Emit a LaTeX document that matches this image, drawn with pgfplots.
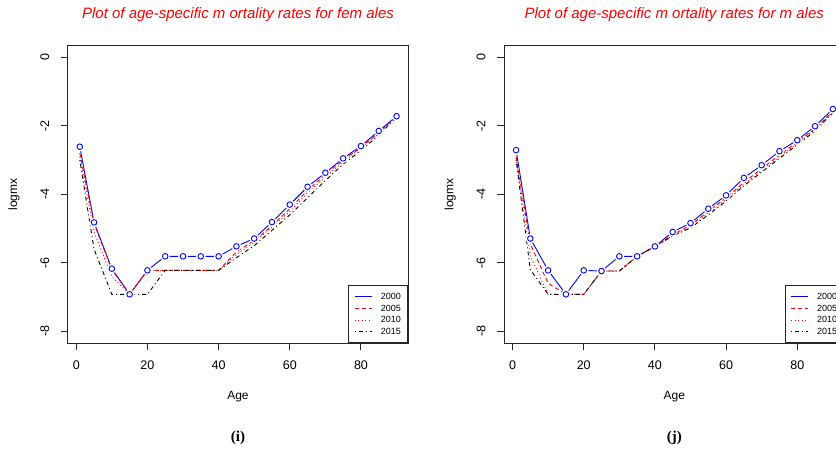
\documentclass[border=0pt]{standalone}
\usepackage{fontspec}
\setmainfont{Liberation Sans}
\newfontfamily\capserif{Liberation Serif}
\usepackage{pgfplots}
\usepackage{pgfplotstable}
\pgfplotsset{compat=1.18}

\definecolor{rblue}{RGB}{0,0,255}
\definecolor{rred}{RGB}{255,0,0}

% age-specific log mortality, females
\pgfplotstableread{
age  y2000  y2005  y2010  y2015
1    -2.61  -2.80  -2.90  -3.00
5    -4.82  -4.85  -5.10  -5.60
10   -6.17  -6.20  -6.40  -6.92
15   -6.92  -6.92  -6.92  -6.92
20   -6.22  -6.22  -6.22  -6.92
25   -5.81  -6.22  -6.22  -6.22
30   -5.81  -6.22  -6.22  -6.22
35   -5.81  -6.22  -6.22  -6.22
40   -5.81  -6.22  -6.22  -6.22
45   -5.52  -5.68  -5.75  -5.85
50   -5.29  -5.35  -5.40  -5.50
55   -4.81  -4.92  -4.95  -5.05
60   -4.30  -4.42  -4.50  -4.60
65   -3.78  -3.88  -3.95  -4.10
70   -3.37  -3.42  -3.50  -3.60
75   -2.95  -3.00  -3.05  -3.12
80   -2.59  -2.63  -2.65  -2.72
85   -2.15  -2.20  -2.22  -2.27
90   -1.72  -1.72  -1.72  -1.75
}\females

% males
\pgfplotstableread{
age  y2000  y2005  y2010  y2015
1    -2.71  -2.90  -2.95  -3.00
5    -5.29  -5.45  -5.80  -6.20
10   -6.22  -6.60  -6.92  -6.92
15   -6.92  -6.92  -6.92  -6.92
20   -6.22  -6.92  -6.92  -6.92
25   -6.24  -6.24  -6.24  -6.24
30   -5.81  -6.24  -6.24  -6.24
35   -5.81  -5.81  -5.81  -5.81
40   -5.52  -5.52  -5.52  -5.52
45   -5.10  -5.18  -5.20  -5.22
50   -4.84  -4.90  -4.95  -4.98
55   -4.42  -4.50  -4.55  -4.60
60   -4.03  -4.10  -4.15  -4.20
65   -3.52  -3.65  -3.70  -3.75
70   -3.15  -3.25  -3.30  -3.35
75   -2.74  -2.85  -2.90  -2.95
80   -2.42  -2.48  -2.52  -2.55
85   -2.01  -2.08  -2.10  -2.15
90   -1.51  -1.58  -1.60  -1.62
}\males

\pgfplotsset{
  mort/.style={
    scale only axis, width=340.6pt, height=297.6pt,
    xmin=-2.4, xmax=93.3, ymin=-8.35, ymax=0.34,
    xtick={0,20,40,60,80}, xticklabels={0,20,40,60,80},
    ytick={-8,-6,-4,-2,0}, yticklabels={-8,-6,-4,-2,0},
    tick align=outside, major tick length=7pt,
    xtick pos=bottom, ytick pos=left,
    axis line style={line width=1pt, black!85},
    every tick/.style={line width=1pt, black!85},
    tick label style={font=\fontsize{12.5}{14}\selectfont},
    xticklabel style={anchor=center, yshift=-15pt},
    yticklabel style={rotate=90, anchor=south},
    yticklabel shift=8pt,
    legend style={at={(1,0)}, anchor=south east, draw=black!85,
      line width=1pt, font=\fontsize{9}{10}\selectfont,
      inner xsep=5.5pt, inner ysep=5pt, row sep=0pt,
      nodes={inner xsep=1.5pt, inner ysep=2.35pt, text height=6pt, text depth=1pt},
      /tikz/every odd column/.append style={column sep=7pt}},
    legend cell align=left,
    legend image code/.code={\draw[#1, line width=0.9pt] (0pt,0pt) -- (17pt,0pt);},
    clip=false,
  },
  s2000/.style={rblue, line width=0.9pt},
  gap/.style={only marks, mark=*, mark size=4.6pt, mark options={draw=white, fill=white}, forget plot},
  circ/.style={only marks, rblue, mark=o, mark size=2.8pt, mark options={solid, line width=0.9pt}, forget plot},
  s2005/.style={rred, line width=0.9pt, dash pattern=on 4pt off 3pt},
  s2010/.style={rred, line width=0.9pt, dash pattern=on 1pt off 2.5pt},
  s2015/.style={black, line width=0.9pt, dash pattern=on 1pt off 3pt on 4pt off 3pt},
}

\begin{document}
\begin{tikzpicture}
\useasboundingbox (0,0) rectangle (836pt,452pt);
\clip (0,0) rectangle (836pt,452pt);

\begin{axis}[mort, at={(67.7pt,108.7pt)}, anchor=south west]
  \addplot[s2000] table[x=age, y=y2000] {\females};
  \addplot[gap] table[x=age, y=y2000] {\females};
  \addplot[circ] table[x=age, y=y2000] {\females};
  \addplot[s2005] table[x=age, y=y2005] {\females};
  \addplot[s2010] table[x=age, y=y2010] {\females};
  \addplot[s2015] table[x=age, y=y2015] {\females};
  \legend{2000,2005,2010,2015}
  \node[text=rred, font=\itshape\fontsize{15}{17}\selectfont]
    at ([yshift=30.7pt]axis description cs:0.5,1)
    {Plot of age-specific m ortality rates for fem ales};
  \node[font=\fontsize{12}{14}\selectfont]
    at ([yshift=-53.4pt]axis description cs:0.5,0) {Age};
  \node[rotate=90, font=\fontsize{12}{14}\selectfont]
    at ([xshift=-53.7pt]axis description cs:0,0.5) {logmx};
  \node[font=\capserif\bfseries\fontsize{15}{17}\selectfont]
    at ([yshift=-94.7pt]axis description cs:0.5,0) {(i)};
\end{axis}

\begin{axis}[mort, at={(504pt,108.7pt)}, anchor=south west]
  \addplot[s2000] table[x=age, y=y2000] {\males};
  \addplot[gap] table[x=age, y=y2000] {\males};
  \addplot[circ] table[x=age, y=y2000] {\males};
  \addplot[s2005] table[x=age, y=y2005] {\males};
  \addplot[s2010] table[x=age, y=y2010] {\males};
  \addplot[s2015] table[x=age, y=y2015] {\males};
  \legend{2000,2005,2010,2015}
  \node[text=rred, font=\itshape\fontsize{15}{17}\selectfont]
    at ([yshift=30.7pt]axis description cs:0.5,1)
    {Plot of age-specific m ortality rates for m ales};
  \node[font=\fontsize{12}{14}\selectfont]
    at ([yshift=-53.4pt]axis description cs:0.5,0) {Age};
  \node[rotate=90, font=\fontsize{12}{14}\selectfont]
    at ([xshift=-53.7pt]axis description cs:0,0.5) {logmx};
  \node[font=\capserif\bfseries\fontsize{15}{17}\selectfont]
    at ([yshift=-94.7pt]axis description cs:0.5,0) {(j)};
\end{axis}
\end{tikzpicture}
\end{document}
